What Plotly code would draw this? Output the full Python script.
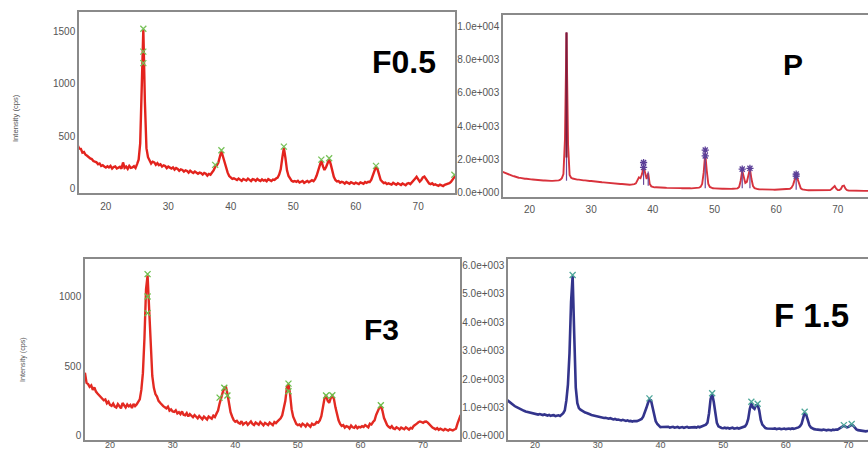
import numpy as np
import plotly.graph_objects as go

# Scan grid shared by all four patterns: 2-theta from 15.5 to 76.0 deg in 0.25 deg steps
two_theta = np.round(np.arange(15.5, 76.0001, 0.25), 2)

# ---- F0.5 pattern (cps) ----
f05_counts = [
    412, 380, 378, 342, 348, 322, 312, 298, 286, 281, 262, 255, 249, 230, 238, 214, 222, 208, 199, 212,
    200, 214, 189, 205, 210, 190, 198, 206, 188, 248, 196, 208, 186, 214, 196, 200, 212, 195, 232, 275,
    430, 910, 1525, 830, 385, 298, 263, 238, 256, 249, 226, 241, 222, 230, 208, 220, 214, 193, 208, 199,
    190, 201, 179, 194, 186, 168, 181, 176, 160, 172, 166, 150, 168, 156, 147, 160, 152, 140, 150, 145,
    132, 148, 140, 122, 138, 131, 152, 172, 205, 218, 245, 312, 358, 305, 250, 188, 150, 118, 106, 90,
    96, 84, 79, 94, 86, 71, 90, 82, 75, 93, 80, 69, 88, 84, 72, 90, 78, 70, 86, 74,
    80, 68, 88, 76, 70, 84, 80, 94, 102, 132, 182, 292, 388, 292, 172, 118, 90, 72, 64, 70,
    62, 72, 56, 66, 70, 52, 63, 71, 58, 66, 77, 68, 88, 122, 172, 237, 268, 212, 176, 202,
    247, 278, 232, 152, 110, 80, 66, 70, 54, 62, 58, 45, 60, 52, 44, 58, 50, 42, 54, 47,
    40, 56, 48, 44, 61, 52, 62, 60, 82, 122, 172, 207, 182, 122, 80, 64, 50, 55, 40, 48,
    44, 36, 52, 40, 34, 48, 42, 32, 46, 40, 30, 45, 51, 40, 61, 75, 92, 110, 82, 64,
    80, 104, 113, 88, 62, 46, 40, 48, 33, 38, 30, 24, 36, 28, 22, 34, 38, 42, 50, 62,
    80, 102, 124,
]
f05_fit_x = [26.0, 26.0, 26.0, 37.5, 38.5, 48.5, 54.5, 55.75, 63.25, 75.8]
f05_fit_y = [1530, 1310, 1200, 225, 365, 400, 275, 288, 215, 130]

# ---- P pattern (counts) ----
p_counts = [
    1252, 1210, 1183, 1136, 1104, 1060, 1034, 990, 968, 930, 913, 880, 873, 845, 841, 817, 818, 795, 798, 780,
    773, 760, 753, 740, 738, 723, 725, 710, 715, 700, 703, 693, 693, 688, 691, 698, 708, 718, 762, 852,
    1100, 3200, 9650, 2900, 1050, 878, 832, 796, 793, 765, 763, 740, 743, 720, 723, 700, 703, 685, 683, 667,
    663, 650, 643, 630, 623, 607, 603, 590, 588, 570, 568, 555, 551, 535, 533, 517, 518, 500, 501, 485,
    488, 473, 473, 460, 463, 470, 492, 540, 700, 900, 850, 1100, 1550, 1180, 800, 1150, 500, 360, 320, 300,
    303, 292, 293, 283, 285, 277, 279, 270, 273, 264, 268, 258, 265, 254, 259, 250, 255, 246, 253, 244,
    248, 241, 245, 236, 243, 241, 253, 259, 283, 330, 500, 1200, 2350, 1300, 500, 322, 272, 243, 238, 226,
    231, 221, 225, 216, 221, 211, 218, 208, 215, 206, 215, 211, 225, 240, 320, 700, 1300, 900, 560, 620,
    1000, 1420, 800, 380, 250, 205, 192, 182, 184, 175, 177, 169, 172, 165, 167, 161, 164, 157, 162, 155,
    160, 157, 164, 162, 172, 177, 197, 217, 282, 450, 750, 950, 780, 420, 240, 178, 152, 137, 132, 122,
    124, 117, 120, 112, 117, 109, 114, 107, 112, 109, 112, 109, 120, 130, 200, 300, 380, 220, 135, 142,
    200, 380, 400, 220, 130, 108, 102, 95, 97, 92, 94, 88, 92, 86, 90, 84, 87, 83, 86, 82,
    85, 81, 83,
]
# reflection sticks (position, base, top) and fitted peak marks
p_stick_pos = [26.0, 38.5, 39.25, 48.5, 54.5, 55.75, 63.25]
p_stick_base = [700, 450, 400, 250, 250, 250, 150]
p_stick_top = [9650, 1750, 1250, 2450, 1350, 1450, 1000]
p_fit_x = [38.5, 38.5, 48.5, 48.5, 54.5, 55.75, 63.25, 63.25]
p_fit_y = [1800, 1500, 2550, 2200, 1400, 1450, 1100, 980]

# ---- F3 pattern (cps) ----
f3_counts = [
    470, 430, 452, 380, 372, 352, 362, 330, 348, 318, 304, 292, 280, 268, 256, 262, 234, 246, 222, 216,
    232, 210, 204, 228, 214, 198, 236, 218, 204, 226, 212, 222, 200, 230, 214, 226, 248, 262, 330, 450,
    700, 1050, 1150, 900, 610, 430, 345, 300, 282, 252, 238, 224, 214, 206, 198, 210, 182, 190, 176, 172,
    184, 162, 170, 156, 176, 152, 148, 164, 140, 156, 146, 134, 150, 138, 126, 144, 132, 120, 138, 126,
    118, 140, 132, 124, 146, 136, 160, 182, 232, 280, 312, 342, 355, 302, 232, 170, 140, 114, 102, 108,
    94, 88, 106, 82, 92, 98, 80, 94, 104, 86, 78, 96, 90, 80, 100, 84, 76, 94, 88, 78,
    96, 86, 78, 100, 92, 104, 112, 126, 148, 190, 252, 348, 372, 302, 192, 138, 108, 86, 78, 82,
    70, 88, 80, 68, 86, 76, 66, 88, 80, 84, 100, 96, 112, 142, 200, 268, 292, 252, 238, 272,
    288, 268, 205, 150, 112, 86, 72, 78, 60, 70, 66, 54, 74, 62, 58, 72, 56, 66, 62, 70,
    64, 78, 70, 62, 88, 82, 100, 112, 150, 182, 202, 215, 182, 130, 100, 78, 66, 58, 70, 54,
    50, 62, 56, 46, 60, 52, 48, 62, 54, 46, 58, 54, 72, 78, 88, 98, 104, 100, 94, 102,
    104, 96, 82, 70, 60, 54, 48, 56, 44, 52, 46, 40, 50, 44, 38, 48, 42, 40, 46, 52,
    90, 130, 150,
]
f3_fit_x = [26.0, 26.0, 26.0, 37.5, 38.25, 38.75, 48.5, 48.5, 54.5, 55.5, 63.25]
f3_fit_y = [1160, 1000, 880, 275, 345, 290, 375, 320, 290, 292, 220]

# ---- F 1.5 pattern (counts) ----
f15_counts = [
    1270, 1220, 1190, 1128, 1090, 1052, 1020, 988, 958, 930, 908, 884, 862, 848, 826, 818, 800, 792, 770, 776,
    752, 768, 740, 734, 756, 722, 718, 742, 706, 724, 732, 700, 716, 728, 704, 738, 800, 900, 1250, 1800,
    2900, 4700, 5620, 3600, 1700, 1150, 980, 925, 880, 860, 822, 808, 775, 762, 740, 728, 702, 696, 672, 668,
    648, 660, 630, 640, 618, 606, 625, 592, 580, 598, 570, 576, 558, 544, 566, 536, 528, 548, 520, 530,
    508, 526, 520, 522, 540, 560, 600, 680, 800, 980, 1150, 1280, 1250, 1000, 700, 520, 420, 350, 312, 318,
    322, 300, 316, 326, 296, 310, 322, 290, 306, 318, 288, 300, 314, 286, 304, 320, 292, 298, 316, 300,
    310, 296, 326, 306, 330, 336, 360, 400, 470, 800, 1300, 1470, 1200, 750, 460, 340, 300, 280, 272, 292,
    270, 288, 262, 274, 290, 256, 276, 282, 262, 286, 300, 310, 340, 420, 600, 950, 1150, 1000, 950, 1080,
    1100, 900, 560, 400, 330, 280, 262, 258, 272, 244, 256, 266, 240, 254, 262, 238, 250, 260, 240, 256,
    260, 244, 266, 250, 262, 270, 300, 340, 420, 620, 820, 740, 520, 380, 300, 262, 240, 232, 220, 228,
    216, 208, 226, 210, 200, 218, 212, 198, 222, 210, 226, 222, 256, 300, 340, 360, 330, 300, 320, 350,
    400, 360, 280, 230, 206, 196, 178, 184, 170, 162, 176, 158, 166, 160, 150, 162, 154, 146, 156, 148,
    150, 142, 146,
]
f15_fit_x = [26.0, 38.25, 48.25, 54.5, 55.5, 63.0, 69.25, 70.5]
f15_fit_y = [5650, 1320, 1500, 1200, 1130, 850, 380, 420]

# tick labels
x_ticks = [20, 30, 40, 50, 60, 70]
f05_yticks = [0, 500, 1000, 1500]
f3_yticks = [0, 500, 1000]
p_yticks = [0, 2000, 4000, 6000, 8000, 10000]
p_yticktext = ["0.0e+000", "2.0e+003", "4.0e+003", "6.0e+003", "8.0e+003", "1.0e+004"]
f15_yticks = [0, 1000, 2000, 3000, 4000, 5000, 6000]
f15_yticktext = ["0.0e+000", "1.0e+003", "2.0e+003", "3.0e+003", "4.0e+003", "5.0e+003", "6.0e+003"]


def sticks(pos, base, top):
    xs, ys = [], []
    for p, b, t in zip(pos, base, top):
        xs += [p, p, None]
        ys += [b, t, None]
    return xs, ys


fig = go.Figure()

# F0.5
fig.add_trace(go.Scatter(x=two_theta, y=f05_counts, mode="lines",
                         line=dict(color="#e3231d", width=2.4), xaxis="x", yaxis="y"))
fig.add_trace(go.Scatter(x=f05_fit_x, y=f05_fit_y, mode="markers",
                         marker=dict(symbol="x-thin", size=6, line=dict(color="#78c25a", width=1.3)),
                         xaxis="x", yaxis="y"))

# P
fig.add_trace(go.Scatter(x=two_theta, y=p_counts, mode="lines",
                         line=dict(color="#d8323c", width=1.9), xaxis="x2", yaxis="y2"))
sx, sy = sticks(p_stick_pos, p_stick_base, p_stick_top)
fig.add_trace(go.Scatter(x=sx, y=sy, mode="lines",
                         line=dict(color="#6a4a9a", width=1.2), xaxis="x2", yaxis="y2"))
fig.add_trace(go.Scatter(x=sx[:3], y=[p_stick_base[0] * 3, p_stick_top[0], None], mode="lines",
                         line=dict(color="#7a1c3e", width=2), xaxis="x2", yaxis="y2"))
fig.add_trace(go.Scatter(x=p_fit_x, y=p_fit_y, mode="markers",
                         marker=dict(symbol="asterisk", size=6, color="#5b3f98",
                                     line=dict(color="#5b3f98", width=1.3)),
                         xaxis="x2", yaxis="y2"))

# F3
fig.add_trace(go.Scatter(x=two_theta, y=f3_counts, mode="lines",
                         line=dict(color="#e32a22", width=2.4), xaxis="x3", yaxis="y3"))
fig.add_trace(go.Scatter(x=f3_fit_x, y=f3_fit_y, mode="markers",
                         marker=dict(symbol="x-thin", size=6, line=dict(color="#6cbf4c", width=1.3)),
                         xaxis="x3", yaxis="y3"))

# F 1.5
fig.add_trace(go.Scatter(x=two_theta, y=f15_counts, mode="lines",
                         line=dict(color="#33348c", width=2.6), xaxis="x4", yaxis="y4"))
fig.add_trace(go.Scatter(x=f15_fit_x, y=f15_fit_y, mode="markers",
                         marker=dict(symbol="x-thin", size=6, line=dict(color="#4fa79a", width=1.3)),
                         xaxis="x4", yaxis="y4"))

font_family = "Liberation Sans, Arial, sans-serif"
tick_font = dict(family=font_family, size=10, color="#555555")
frame = dict(showline=True, linecolor="#8a8a8a", linewidth=1.5, showgrid=False,
             zeroline=False, ticks="", tickfont=tick_font, automargin=False)
# the lower row sits at the page edge, so its x labels are tucked in a little tighter
bottom_frame = dict(frame, tickfont=dict(tick_font, size=9))

fig.update_layout(
    width=868, height=450,
    margin=dict(l=0, r=0, t=0, b=0),
    paper_bgcolor="white", plot_bgcolor="white",
    showlegend=False,
    xaxis=dict(domain=[0.0910, 0.5242], range=[15.7, 75.9], anchor="y",
               tickvals=x_ticks, mirror=True, ticklabelstandoff=3, **frame),
    yaxis=dict(domain=[0.5711, 0.9733], range=[-45, 1690], anchor="x",
               tickvals=f05_yticks, mirror=True, ticklabelstandoff=0, **frame),
    xaxis2=dict(domain=[0.5795, 1.0], range=[15.7, 74.9], anchor="y2",
                tickvals=x_ticks, mirror=True, ticklabelstandoff=2, **frame),
    yaxis2=dict(domain=[0.5622, 0.9667], range=[-284, 10707], anchor="x2",
                tickvals=p_yticks, ticktext=p_yticktext, ticklabelstandoff=0, **frame),
    xaxis3=dict(domain=[0.0979, 0.5300], range=[16.0, 75.9], anchor="y3",
                tickvals=x_ticks, mirror=True, ticklabelstandoff=-5, **bottom_frame),
    yaxis3=dict(domain=[0.0222, 0.4244], range=[-29, 1268], anchor="x3",
                tickvals=f3_yticks, mirror=True, ticklabelstandoff=0, **frame),
    xaxis4=dict(domain=[0.5853, 1.0], range=[15.7, 73.1], anchor="y4",
                tickvals=x_ticks, mirror=True, ticklabelstandoff=-5, **bottom_frame),
    yaxis4=dict(domain=[0.0222, 0.4244], range=[-141, 6211], anchor="x4",
                tickvals=f15_yticks, ticktext=f15_yticktext, ticklabelstandoff=0, **frame),
)

label_font = dict(family=font_family, size=32, color="black", weight="bold")
axis_title_font = dict(family=font_family, size=7.6, color="#555555")
fig.update_layout(annotations=[
    dict(text="F0.5", x=403.5 / 868, y=1 - 61.5 / 450, xref="paper", yref="paper",
         showarrow=False, font=label_font, xanchor="center", yanchor="middle"),
    dict(text="P", x=793 / 868, y=1 - 64 / 450, xref="paper", yref="paper",
         showarrow=False, font=dict(label_font, size=30), xanchor="center", yanchor="middle"),
    dict(text="F3", x=381 / 868, y=1 - 329 / 450, xref="paper", yref="paper",
         showarrow=False, font=dict(label_font, size=30), xanchor="center", yanchor="middle"),
    dict(text="F 1.5", x=811 / 868, y=1 - 315 / 450, xref="paper", yref="paper",
         showarrow=False, font=dict(label_font, size=33), xanchor="center", yanchor="middle"),
    dict(text="Intensity (cps)", x=15 / 868, y=1 - 118 / 450, xref="paper", yref="paper",
         showarrow=False, textangle=-90, font=axis_title_font, xanchor="center", yanchor="middle"),
    dict(text="Intensity (cps)", x=22 / 868, y=1 - 360 / 450, xref="paper", yref="paper",
         showarrow=False, textangle=-90, font=dict(axis_title_font, size=7.2),
         xanchor="center", yanchor="middle"),
])

fig.write_html("out.html")
